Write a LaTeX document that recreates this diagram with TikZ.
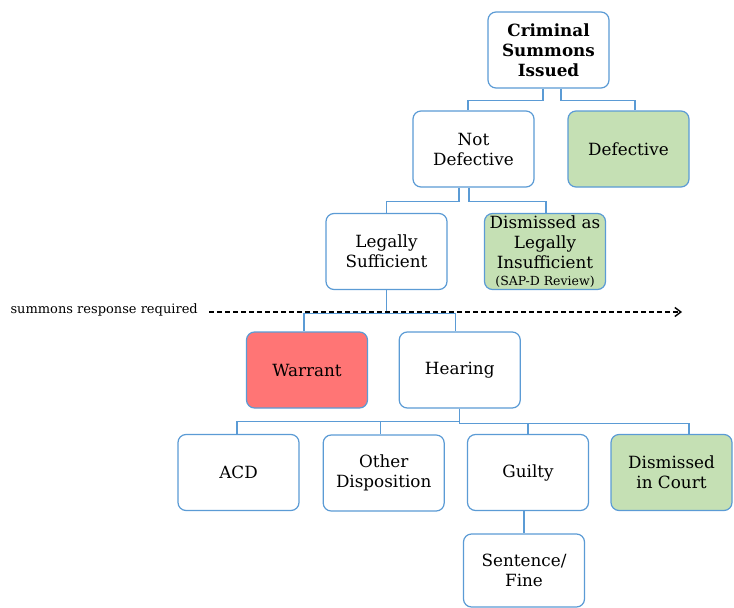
\documentclass[tikz,border=0pt]{standalone}
\usepackage{fontspec}
\setmainfont{DejaVu Serif}
\usetikzlibrary{arrows.meta}
\definecolor{boxblue}{RGB}{91,155,213}
\definecolor{boxgreen}{RGB}{197,224,180}
\definecolor{boxred}{RGB}{255,117,117}
\tikzset{
  box/.style={draw=boxblue, line width=1.2pt, rounded corners=8pt, fill=white,
    minimum width=121pt, minimum height=76pt, align=center, inner sep=2pt,
    font=\fontsize{16.8}{20}\selectfont},
  greenbox/.style={box, fill=boxgreen},
  redbox/.style={box, fill=boxred},
  conn/.style={draw=boxblue, line width=1.1pt},
}
\begin{document}
\begin{tikzpicture}[x=1pt,y=-1pt]
\useasboundingbox (0,0) rectangle (734,608);
\node[box] (crim) at (548.5,50) {\textbf{Criminal}\\\textbf{Summons}\\\textbf{Issued}};
\node[box] (notdef) at (473.5,149) {Not\\Defective};
\node[greenbox] (def) at (628.5,149) {Defective};
\node[box] (legal) at (386.5,251.5) {Legally\\Sufficient};
\node[greenbox] (dism1) at (545,251.5) {Dismissed as\\Legally\\Insufficient\\[-3pt]{\fontsize{12.5}{14}\selectfont (SAP-D Review)}};
\node[redbox] (warrant) at (307,370) {Warrant};
\node[box] (hearing) at (459.75,370) {Hearing};
\node[box] (acd) at (238.5,472.5) {ACD};
\node[box] (other) at (383.7,473) {Other\\Disposition};
\node[box] (guilty) at (528,472.5) {Guilty};
\node[greenbox] (dism2) at (671.5,472.5) {Dismissed\\in Court};
\node[box, minimum height=73pt] (sentence) at (524,570.5) {Sentence/\\Fine};

\draw[conn] ([xshift=-5.5pt]crim.south) -- ++(0,12) -| ([xshift=-5.5pt]notdef.north);
\draw[conn] ([xshift=12.5pt]crim.south) -- ++(0,12) -| ([xshift=6.5pt]def.north);
\draw[conn] ([xshift=-14.5pt]notdef.south) -- ++(0,14) -| (legal.north);
\draw[conn] ([xshift=-4.5pt]notdef.south) -- ++(0,14) -| ([xshift=1pt]dism1.north);
\draw[conn] (legal.south) -- ++(0,23) -| ([xshift=-3pt]warrant.north);
\draw[conn] (legal.south) -- ++(0,23) -| ([xshift=-4pt]hearing.north);
\draw[conn] (hearing.south) -- ++(0,13) -| ([xshift=-1.5pt]acd.north);
\draw[conn] (hearing.south) -- ++(0,13) -| ([xshift=-3pt]other.north);
\draw[conn] (hearing.south) -- ++(0,15) -| (guilty.north);
\draw[conn] (hearing.south) -- ++(0,15) -| ([xshift=17.5pt]dism2.north);
\draw[conn] ([xshift=-4pt]guilty.south) -- ([xshift=-4pt]guilty.south |- sentence.north);

\node[anchor=east, inner sep=0pt, font=\fontsize{13}{15}\selectfont] (lbl) at (198,310) {summons response required};
\coordinate (aend) at (682,312);
\draw[line width=1.4pt, dash pattern=on 5pt off 3pt, -{Straight Barb[length=6pt,width=9pt]}] ([xshift=11pt]lbl.east |- aend) -- (aend);
\end{tikzpicture}
\end{document}
